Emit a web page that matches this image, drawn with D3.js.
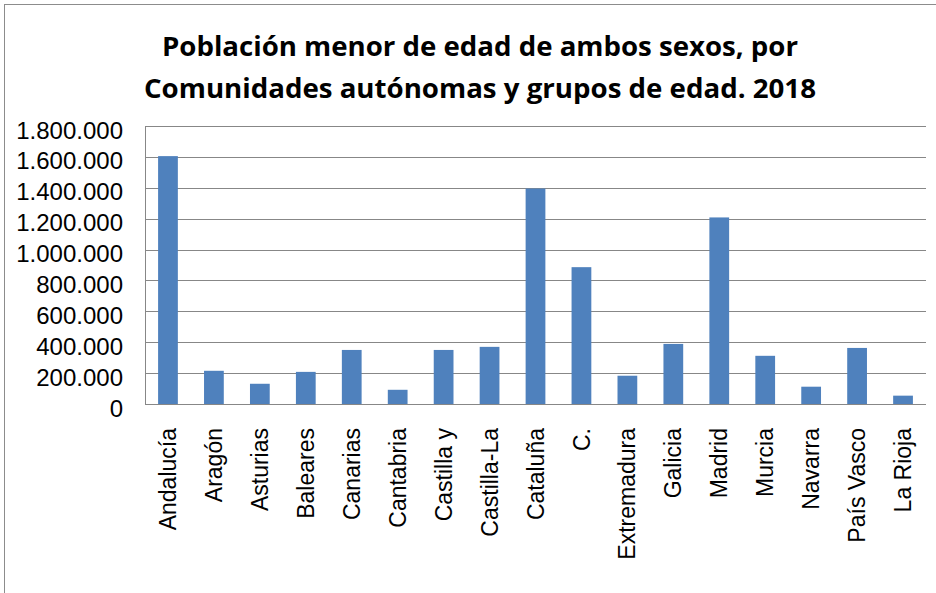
<!DOCTYPE html>
<html>
<head>
<meta charset="utf-8">
<script src="https://cdn.jsdelivr.net/npm/d3@7"></script>
<style>
  body { margin: 0; background: #fff; }
</style>
</head>
<body>
<svg id="chart"></svg>
<script>
// data
const comunidades = ['Andalucía', 'Aragón', 'Asturias', 'Baleares', 'Canarias', 'Cantabria',
  'Castilla y', 'Castilla-La', 'Cataluña', 'C.', 'Extremadura', 'Galicia', 'Madrid',
  'Murcia', 'Navarra', 'País Vasco', 'La Rioja'];
const poblacion = [1605000, 215000, 131000, 208000, 350000, 92000, 350000, 370000,
  1395000, 886000, 183000, 389000, 1208000, 312000, 112000, 363000, 54000];
const yTicks = [0, 200000, 400000, 600000, 800000, 1000000, 1200000, 1400000, 1600000, 1800000];
const titleLines = ['Población menor de edad de ambos sexos, por',
  'Comunidades autónomas y grupos de edad. 2018'];

const W = 936, H = 593;
const margin = {top: 126, right: 10, bottom: 189, left: 145};
const width = W - margin.left - margin.right;
const height = H - margin.top - margin.bottom;

const svg = d3.select('#chart')
  .attr('width', W)
  .attr('height', H);

// chart border
svg.append('rect')
  .attr('x', 4.5).attr('y', 4.5)
  .attr('width', W + 10).attr('height', H + 10)
  .attr('fill', 'none')
  .attr('stroke', '#8c8c8c');

// title
svg.append('g')
  .selectAll('text')
  .data(titleLines)
  .enter()
  .append('text')
    .attr('x', W / 2 + 12)
    .attr('y', (d, i) => 56 + i * 42)
    .attr('text-anchor', 'middle')
    .attr('textLength', (d, i) => i === 0 ? 636 : 672)
    .attr('lengthAdjust', 'spacingAndGlyphs')
    .style('font-family', '"Open Sans", sans-serif')
    .style('font-weight', 'bold')
    .style('font-size', '26px')
    .text(d => d);

const g = svg.append('g')
  .attr('transform', 'translate(' + margin.left + ',' + margin.top + ')');

const x = d3.scaleBand()
  .domain(comunidades)
  .range([0, width])
  .paddingInner(0.57)
  .paddingOuter(0.285);

const y = d3.scaleLinear()
  .domain([0, 1800000])
  .range([height, 0]);

const fmt = v => d3.format(',')(v).replace(/,/g, '.');

// gridlines
g.append('g')
  .selectAll('line')
  .data(yTicks)
  .enter()
  .append('line')
    .attr('x1', 0).attr('x2', width)
    .attr('y1', d => Math.round(y(d)) + 0.5)
    .attr('y2', d => Math.round(y(d)) + 0.5)
    .attr('stroke', '#878787')
    .attr('stroke-width', 1);

// y axis
const yAxis = g.append('g')
  .call(d3.axisLeft(y).tickValues(yTicks).tickFormat(fmt).tickSize(0).tickPadding(22));
yAxis.select('.domain').attr('stroke', '#878787').attr('d', 'M0.5,0V' + height);
yAxis.selectAll('text')
  .attr('dy', '0.5em')
  .style('font-family', '"Liberation Sans", Arial, sans-serif')
  .style('font-size', '24px')
  .attr('fill', '#000');

// bars
g.append('g')
  .selectAll('rect')
  .data(poblacion)
  .enter()
  .append('rect')
    .attr('x', (d, i) => x(comunidades[i]))
    .attr('y', d => y(d))
    .attr('width', x.bandwidth())
    .attr('height', d => height - y(d))
    .style('fill', '#4f81bd');

// x axis
const xAxis = g.append('g')
  .attr('transform', 'translate(0,' + height + ')')
  .call(d3.axisBottom(x).tickSize(0).tickPadding(0));
xAxis.select('.domain').attr('stroke', '#878787').attr('d', 'M0,0.5H' + width);
xAxis.selectAll('text')
  .attr('transform', 'rotate(-90)')
  .attr('text-anchor', 'end')
  .attr('x', -24)
  .attr('y', 0)
  .attr('dy', '0.35em')
  .style('font-family', '"Liberation Sans", Arial, sans-serif')
  .style('font-size', '23px')
  .attr('fill', '#000');
</script>
</body>
</html>
